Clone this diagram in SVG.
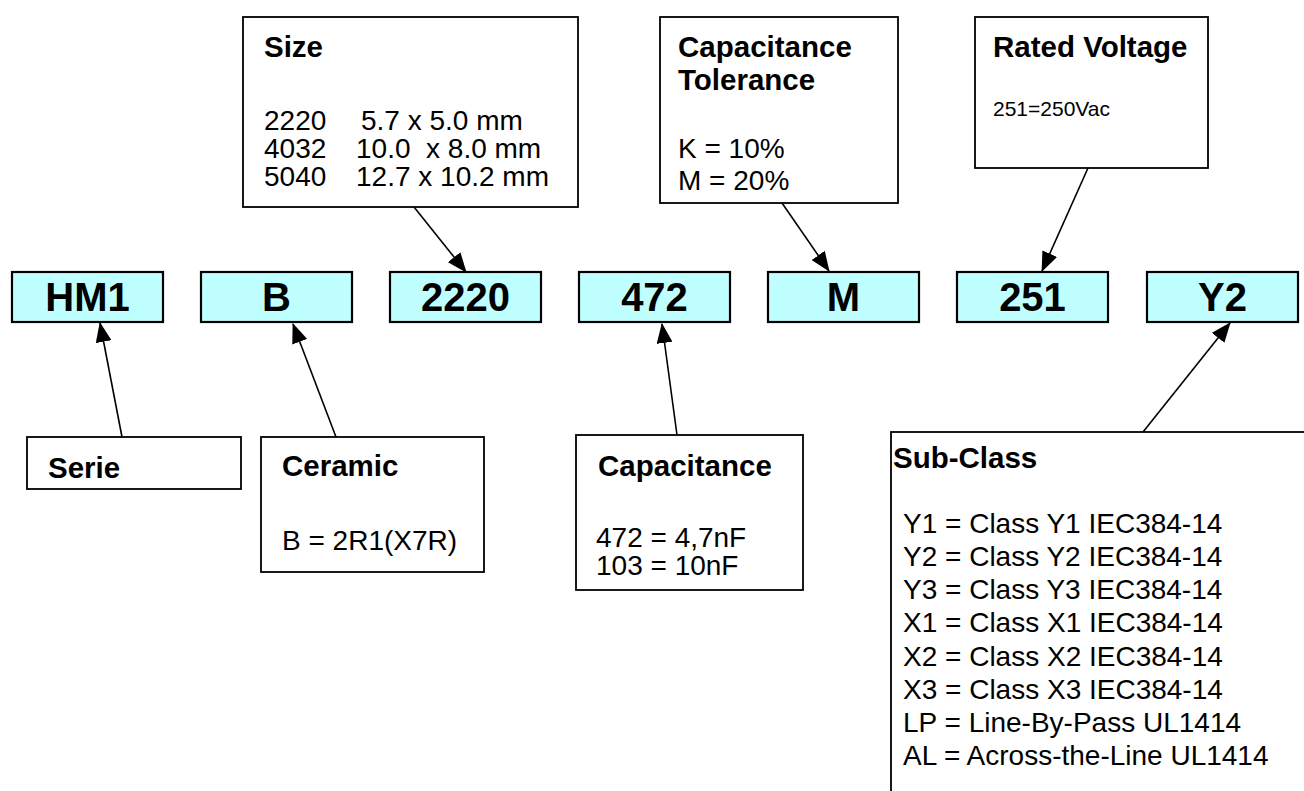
<svg xmlns="http://www.w3.org/2000/svg" width="1304" height="791" viewBox="0 0 1304 791">
<style>
.code{fill:#BFFFFF;stroke:#000;stroke-width:2.2}
.box{fill:#fff;stroke:#000;stroke-width:1.8}
.ct{font-family:"Liberation Sans",Arial,sans-serif;font-weight:bold;font-size:40px;text-anchor:middle;fill:#000}
.h{font-family:"Liberation Sans",Arial,sans-serif;font-weight:bold;font-size:29.5px;fill:#000}
.t{font-family:"Liberation Sans",Arial,sans-serif;font-size:28px;fill:#000}
.ln{stroke:#000;stroke-width:1.6;fill:none;marker-end:url(#ah)}
</style>
<defs>
<marker id="ah" markerUnits="userSpaceOnUse" markerWidth="20" markerHeight="16" viewBox="0 0 20 16" refX="19" refY="8" orient="auto">
<path d="M0,0 L20,8 L0,16 Z" fill="#000"/>
</marker>
</defs>
<rect width="1304" height="791" fill="#fff"/>
<g id="code-hm1"><rect class="code" x="12" y="272" width="151" height="50"/><text class="ct" x="87.5" y="311">HM1</text></g>
<g id="code-b"><rect class="code" x="201" y="272" width="151" height="50"/><text class="ct" x="276.5" y="311">B</text></g>
<g id="code-2220"><rect class="code" x="390" y="272" width="151" height="50"/><text class="ct" x="465.5" y="311">2220</text></g>
<g id="code-472"><rect class="code" x="579" y="272" width="151" height="50"/><text class="ct" x="654.5" y="311">472</text></g>
<g id="code-m"><rect class="code" x="768" y="272" width="151" height="50"/><text class="ct" x="843.5" y="311">M</text></g>
<g id="code-251"><rect class="code" x="957" y="272" width="151" height="50"/><text class="ct" x="1032.5" y="311">251</text></g>
<g id="code-y2"><rect class="code" x="1147" y="272" width="151" height="50"/><text class="ct" x="1222.5" y="311">Y2</text></g>

<g id="size"><rect class="box" x="243" y="17" width="335" height="190"/>
<text class="h" x="264" y="57">Size</text>
<text class="t" y="130"><tspan x="264">2220</tspan><tspan x="361">5.7 x 5.0 mm</tspan></text>
<text class="t" y="158" xml:space="preserve"><tspan x="264">4032</tspan><tspan x="356">10.0  x 8.0 mm</tspan></text>
<text class="t" y="186"><tspan x="264">5040</tspan><tspan x="356">12.7 x 10.2 mm</tspan></text>
</g>
<g id="tolerance"><rect class="box" x="660" y="17" width="238" height="186"/>
<text class="h" x="678" y="57">Capacitance</text>
<text class="h" x="678" y="90">Tolerance</text>
<text class="t" x="678" y="158">K = 10%</text>
<text class="t" x="678" y="190">M = 20%</text>
</g>
<g id="voltage"><rect class="box" x="975" y="17" width="233" height="151"/>
<text class="h" x="993" y="57">Rated Voltage</text>
<text class="t" x="993" y="116" style="font-size:21px">251=250Vac</text>
</g>
<g id="serie"><rect class="box" x="27" y="437" width="214" height="52"/>
<text class="h" x="48" y="478">Serie</text>
</g>
<g id="ceramic"><rect class="box" x="261" y="437" width="223" height="135"/>
<text class="h" x="282" y="476">Ceramic</text>
<text class="t" x="282" y="550">B = 2R1(X7R)</text>
</g>
<g id="capacitance"><rect class="box" x="576" y="435" width="227" height="155"/>
<text class="h" x="598" y="476">Capacitance</text>
<text class="t" x="596" y="547">472 = 4,7nF</text>
<text class="t" x="596" y="575">103 = 10nF</text>
</g>
<g id="subclass"><rect class="box" x="891" y="432" width="500" height="500"/>
<text class="h" x="893" y="468">Sub-Class</text>
<text class="t" x="903" y="533">Y1 = Class Y1 IEC384-14</text>
<text class="t" x="903" y="566">Y2 = Class Y2 IEC384-14</text>
<text class="t" x="903" y="599">Y3 = Class Y3 IEC384-14</text>
<text class="t" x="903" y="632">X1 = Class X1 IEC384-14</text>
<text class="t" x="903" y="666">X2 = Class X2 IEC384-14</text>
<text class="t" x="903" y="699">X3 = Class X3 IEC384-14</text>
<text class="t" x="903" y="732">LP = Line-By-Pass UL1414</text>
<text class="t" x="903" y="765">AL = Across-the-Line UL1414</text>
</g>
<g id="connectors">
<line class="ln" x1="122" y1="437" x2="100" y2="323"/>
<line class="ln" x1="336" y1="437" x2="293" y2="324"/>
<line class="ln" x1="414" y1="207" x2="466" y2="272"/>
<line class="ln" x1="677" y1="435" x2="662" y2="324"/>
<line class="ln" x1="782" y1="203" x2="829" y2="271"/>
<line class="ln" x1="1088" y1="168" x2="1042" y2="271"/>
<line class="ln" x1="1143" y1="432" x2="1230" y2="323"/>
</g>
</svg>
